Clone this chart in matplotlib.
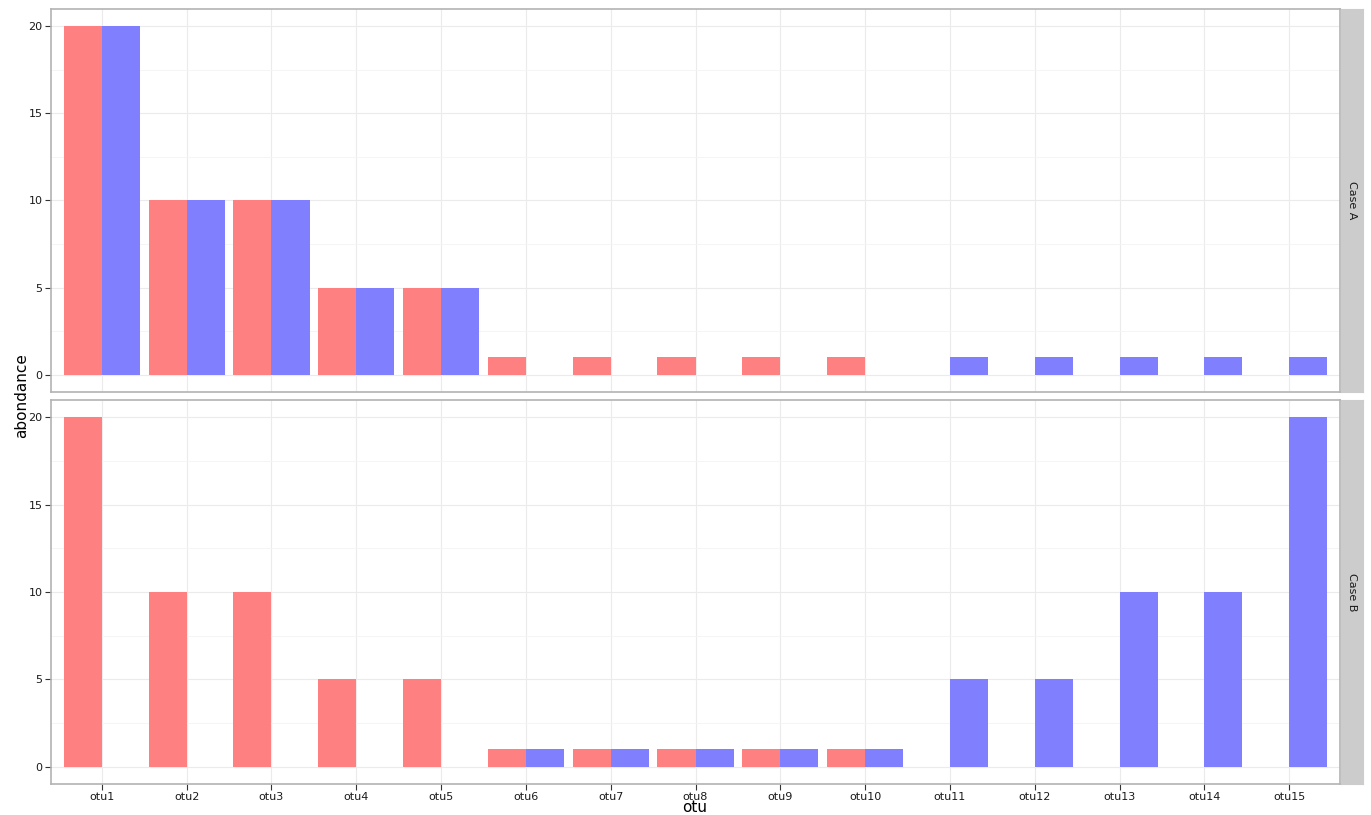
import numpy as np
from matplotlib import pyplot as plt

otus = ["otu%d" % i for i in range(1, 16)]
cases = ["Case A", "Case B"]

case_a_red = [20, 10, 10, 5, 5, 1, 1, 1, 1, 1, 0, 0, 0, 0, 0]
case_a_blue = [20, 10, 10, 5, 5, 0, 0, 0, 0, 0, 1, 1, 1, 1, 1]
case_b_red = [20, 10, 10, 5, 5, 1, 1, 1, 1, 1, 0, 0, 0, 0, 0]
case_b_blue = [0, 0, 0, 0, 0, 1, 1, 1, 1, 1, 5, 5, 10, 10, 20]

yticks = [0, 5, 10, 15, 20]

red = "#ff8080"
blue = "#8080ff"
border = "#b3b3b3"

fig = plt.figure(figsize=(13.71, 8.15), dpi=100)
left, right = 51 / 1371, 1340 / 1371
panels = [(1 - 392 / 815, 1 - 9 / 815), (1 - 784 / 815, 1 - 400 / 815)]
strip_w = 22 / 1371

x = np.arange(len(otus))
data = [(case_a_red, case_a_blue), (case_b_red, case_b_blue)]

for k, (bot, top) in enumerate(panels):
    ax = fig.add_axes([left, bot, right - left, top - bot])
    r, b = data[k]
    ax.bar(x - 0.225, r, width=0.45, color=red, zorder=3)
    ax.bar(x + 0.225, b, width=0.45, color=blue, zorder=3)
    ax.set_xlim(-0.6, len(otus) - 0.4)
    ax.set_ylim(-1, 21)
    ax.set_yticks(yticks)
    ax.set_yticks([2.5, 7.5, 12.5, 17.5], minor=True)
    ax.set_xticks(x)
    ax.grid(which="major", color="#ebebeb", linewidth=0.8, zorder=0)
    ax.grid(which="minor", axis="y", color="#f4f4f4", linewidth=0.6, zorder=0)
    ax.tick_params(which="minor", length=0)
    ax.tick_params(which="major", length=4, width=0.8, color="#333333",
                   labelsize=8, labelcolor="#1a1a1a", pad=2)
    for s in ax.spines.values():
        s.set_color(border)
        s.set_linewidth(1.2)
    if k == 0:
        ax.set_xticklabels([])
        ax.tick_params(axis="x", length=0)
    else:
        ax.set_xticklabels(otus)

    sax = fig.add_axes([right + 1 / 1371, bot, strip_w, top - bot])
    sax.set_facecolor("#cccccc")
    sax.set_xticks([])
    sax.set_yticks([])
    for s in sax.spines.values():
        s.set_color("#cccccc")
    sax.text(0.5, 0.5, cases[k], rotation=-90, ha="center", va="center",
             fontsize=8, color="#1a1a1a", transform=sax.transAxes)

fig.text(695 / 1371, 1 - 808 / 815, "otu", ha="center", va="center",
         fontsize=11)
fig.text(22 / 1371, 1 - 396 / 815, "abondance", rotation=90, ha="center",
         va="center", fontsize=11)

plt.savefig("out.png", dpi=100)
